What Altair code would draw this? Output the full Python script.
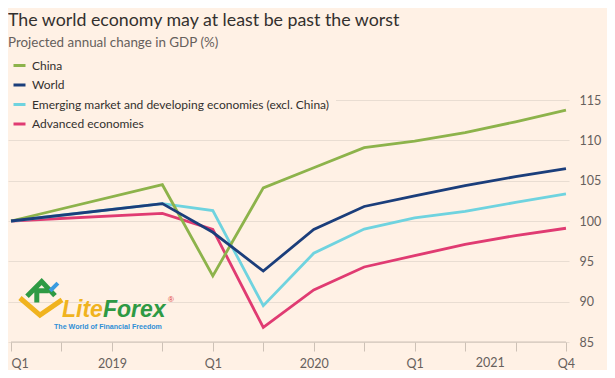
import altair as alt
import pandas as pd

# ---- data ----
quarter_idx = [0, 3, 4, 5, 6, 7, 8, 9, 10, 11]
china = [100, 104.5, 93.2, 104.1, 106.6, 109.1, 109.9, 110.95, 112.3, 113.75]
world = [100, 102.15, 98.6, 93.8, 98.95, 101.8, 103.1, 104.4, 105.5, 106.5]
emerging = [100, 102.15, 101.3, 89.5, 96.0, 99.0, 100.4, 101.2, 102.3, 103.35]
advanced = [100, 100.95, 98.95, 86.8, 91.45, 94.3, 95.7, 97.1, 98.2, 99.1]

series_names = [
    "China",
    "World",
    "Emerging market and developing economies (excl. China)",
    "Advanced economies",
]
series_colors = ["#8db34b", "#1b3e7b", "#6fd3df", "#e03b72"]

tick_positions = list(range(12))
tick_labels = {0: "Q1", 2: "2019", 4: "Q1", 6: "2020", 8: "Q1", 11: "Q4"}
extra_label = [{"x": 9.5, "label": "2021"}]
y_ticks = [85, 90, 95, 100, 105, 110, 115]

title = "The world economy may at least be past the worst"
subtitle = "Projected annual change in GDP (%)"

# draw order (last on top)
draw_order = [series_names[3], series_names[2], series_names[0], series_names[1]]
values_by_name = dict(zip(series_names, [china, world, emerging, advanced]))
rows = []
for name in draw_order:
    for q, v in zip(quarter_idx, values_by_name[name]):
        rows.append({"q": q, "value": v, "series": name})
df = pd.DataFrame(rows)

BG = "#fff1e5"
FONT = "Lato"
W, H = 561, 242

label_expr = "{" + ",".join(f"'{k}':'{v}'" for k, v in tick_labels.items()) + "}[datum.value] || ''"

x_scale = alt.Scale(domain=[-0.06, 11.06], nice=False, zero=False)
y_scale = alt.Scale(domain=[85, 115], nice=False, zero=False)

x_axis = alt.Axis(
    values=tick_positions, labelExpr=label_expr, domain=False, grid=False,
    ticks=True, tickSize=9, tickColor="#cdc1b6", tickWidth=1,
    labelFont=FONT, labelFontSize=12.5, labelColor="#66605c", labelPadding=6,
    labelFlush=False,
    labelAlign={"condition": {"test": "datum.value == 0", "value": "left"}, "value": "center"},
    title=None,
)
y_axis = alt.Axis(
    orient="right", values=y_ticks, domain=False, ticks=False,
    grid=True, gridColor="#e9ddd2", gridWidth=1,
    labelFont=FONT, labelFontSize=12.5, labelColor="#66605c", labelPadding=10,
    labelAlign="left", title=None,
)

lines = alt.Chart(df).mark_line(strokeWidth=2.8, strokeJoin="miter").encode(
    x=alt.X("q:Q", scale=x_scale, axis=x_axis),
    y=alt.Y("value:Q", scale=y_scale, axis=y_axis),
    color=alt.Color(
        "series:N",
        scale=alt.Scale(domain=series_names, range=series_colors),
        legend=alt.Legend(
            title=None, orient="none", legendX=-2, legendY=-48,
            direction="vertical", symbolType="stroke", symbolSize=144,
            symbolStrokeWidth=3, labelFont=FONT, labelFontSize=12,
            labelColor="#33302e", labelOffset=5, rowPadding=5.5,
            fillColor=BG, padding=6, labelLimit=400,
        ),
    ),
    detail="series:N",
)

axis_line = alt.Chart(pd.DataFrame({"x": [tick_positions[0]], "x2": [tick_positions[-1]], "y": [85]})).mark_rule(
    color="#cdc1b6", strokeWidth=1
).encode(x=alt.X("x:Q", scale=x_scale), x2="x2:Q", y=alt.Y("y:Q", scale=y_scale))

year_label = alt.Chart(pd.DataFrame(extra_label)).mark_text(
    font=FONT, fontSize=12.5, color="#66605c", baseline="top", align="center"
).encode(x=alt.X("x:Q", scale=x_scale), y=alt.value(H + 15), text="label:N")

title_mark = alt.Chart(pd.DataFrame({"t": [title]})).mark_text(
    font=FONT, fontSize=17.8, color="#33302e", align="left", baseline="alphabetic"
).encode(x=alt.value(0), y=alt.value(-74), text="t:N")

subtitle_mark = alt.Chart(pd.DataFrame({"t": [subtitle]})).mark_text(
    font=FONT, fontSize=13.4, color="#66605c", align="left", baseline="alphabetic"
).encode(x=alt.value(0), y=alt.value(-53), text="t:N")

# LiteForex watermark
logo_lite = alt.Chart(pd.DataFrame({"t": ["Lite"]})).mark_text(
    font="Liberation Sans", fontSize=23, fontWeight="bold", fontStyle="italic",
    color="#f0b31f", align="left", baseline="alphabetic"
).encode(x=alt.value(54), y=alt.value(217), text="t:N")
logo_forex = alt.Chart(pd.DataFrame({"t": ["Forex"]})).mark_text(
    font="Liberation Sans", fontSize=23, fontWeight="bold", fontStyle="italic",
    color="#2e9a44", align="left", baseline="alphabetic"
).encode(x=alt.value(95), y=alt.value(217), text="t:N")
logo_reg = alt.Chart(pd.DataFrame({"t": ["®"]})).mark_text(
    font="Liberation Sans", fontSize=8, color="#e03b3b", align="left", baseline="alphabetic"
).encode(x=alt.value(160), y=alt.value(202), text="t:N")
logo_tag = alt.Chart(pd.DataFrame({"t": ["The World of Financial Freedom"]})).mark_text(
    font="Liberation Sans", fontSize=7.1, fontWeight="bold",
    color="#2f8fd6", align="left", baseline="alphabetic"
).encode(x=alt.value(46), y=alt.value(229), text="t:N")
logo_yellow = alt.Chart(pd.DataFrame({"a": [1]})).mark_point(
    shape="M-1,-0.38L-0.05,0.43L1,-0.29",
    size=1764, filled=False, stroke="#f0b31f", strokeWidth=5, opacity=1
).encode(x=alt.value(33), y=alt.value(206))
logo_green = alt.Chart(pd.DataFrame({"a": [1]})).mark_point(
    shape="M-1,0.45L0.05,-0.6L1,0.4M-0.3,0.9L-0.3,0.05L0.55,0.05",
    size=784, filled=False, stroke="#2e9a44", strokeWidth=5, opacity=1
).encode(x=alt.value(33), y=alt.value(190))
logo_blue = alt.Chart(pd.DataFrame({"a": [1]})).mark_point(
    shape="M-1,1L1,-1", size=60, filled=False, stroke="#3a9be0", strokeWidth=4, opacity=1
).encode(x=alt.value(46), y=alt.value(187))

chart = alt.layer(
    axis_line, lines, year_label, title_mark, subtitle_mark,
    logo_yellow, logo_green, logo_blue, logo_lite, logo_forex, logo_reg, logo_tag,
).properties(
    width=W, height=H, background=BG,
    padding={"left": 0, "top": 92, "right": 38, "bottom": 28},
    autosize=alt.AutoSizeParams(type="none"),
).configure_view(stroke=None)

chart.save("out.html", embed_options={"renderer": "svg", "actions": False})
